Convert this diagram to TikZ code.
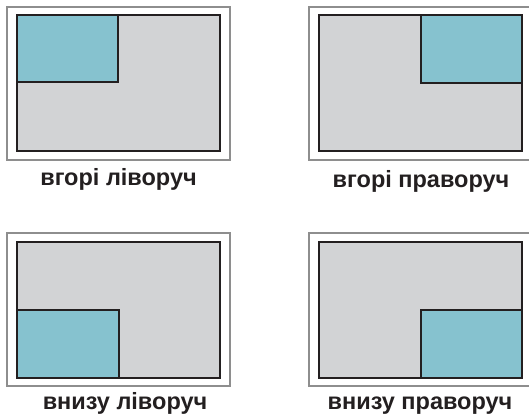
\documentclass[tikz,border=0pt]{standalone}
\usepackage{fontspec}
\setmainfont{Liberation Sans}
\usepackage{tikz}
\usetikzlibrary{positioning,fit}
\definecolor{panelgray}{HTML}{D2D3D5}
\definecolor{paneblue}{HTML}{86C2CF}
\definecolor{framegray}{HTML}{8E8E8E}
\definecolor{edgedark}{HTML}{231F20}

\begin{document}
\begin{tikzpicture}[x=1pt,y=-1pt,
  frame/.style={draw=framegray,line width=1.6pt,fill=white},
  screen/.style={draw=edgedark,line width=2pt,fill=panelgray},
  win/.style={draw=edgedark,line width=1.2pt,fill=paneblue},
  lbl/.style={anchor=base,inner sep=0pt,font=\fontsize{23.5}{26}\selectfont\bfseries,text=edgedark}]
  \useasboundingbox[fill=white] (0,0) rectangle (529,415);
  % top left
  \draw[frame] (7,7) rectangle (230,160);
  \draw[screen] (17,15) rectangle (220,151);
  \draw[win] (17,15) rectangle (118,82);
  \node[lbl] (tl) at (118.5,185) {вгорі ліворуч};
  % top right
  \draw[frame] (309,7) rectangle (535,160);
  \draw[screen] (319,15) rectangle (522,151);
  \draw[win] (421,15) rectangle (522,83);
  \node[lbl] (tr) at (421,187) {вгорі праворуч};
  % bottom left
  \draw[frame] (7,233) rectangle (230,386);
  \draw[screen] (17,242) rectangle (220,378);
  \draw[win] (17,310) rectangle (119,378);
  \node[lbl] (bl) at (125,409.5) {внизу ліворуч};
  % bottom right
  \draw[frame] (309,233) rectangle (535,386);
  \draw[screen] (319,242) rectangle (522,378);
  \draw[win] (421,310) rectangle (522,378);
  \node[lbl] (br) at (420,409.5) {внизу праворуч};
\end{tikzpicture}
\end{document}
